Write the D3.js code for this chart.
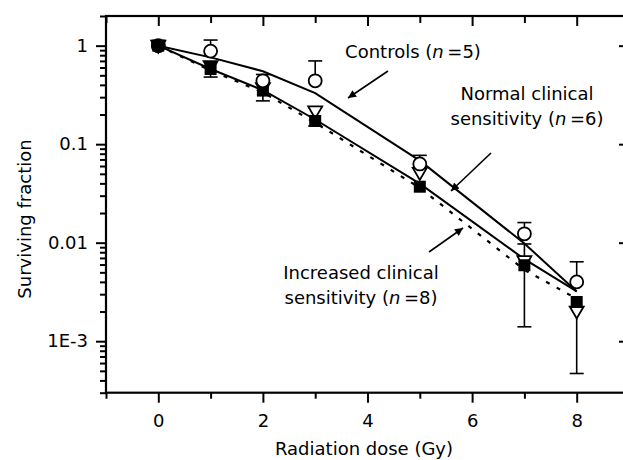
<!DOCTYPE html>
<html>
<head>
<meta charset="utf-8">
<script src="https://cdn.jsdelivr.net/npm/d3@7"></script>
<style>
  body { margin: 0; background: #fff; }
  text { font-family: "DejaVu Sans", sans-serif; fill: #000; }
</style>
</head>
<body>
<div id="drawing"></div>
<script>
// doses (Gy)
const doses = [0, 1, 2, 3, 5, 7, 8];

// measured surviving fractions
const controls = [1, 0.88, 0.44, 0.44, 0.063, 0.0123, 0.0040];
const controlsHi = [null, 1.14, 0.51, 0.70, 0.077, 0.016, 0.0064];
const normal = [1, 0.62, 0.37, 0.215, 0.051, 0.0065, 0.0020];
const normalHi = [null, null, null, 0.235, null, 0.0097, null];
const increased = [1, 0.58, 0.35, 0.172, 0.037, 0.0059, 0.0025];
const increasedLo = [null, 0.48, 0.275, 0.153, null, 0.0014, 0.00047];

// fitted curves
const controlsFit = [1, 0.76, 0.55, 0.33, 0.068, 0.0098, 0.0032];
const normalFit = [1, 0.58, 0.353, 0.178, 0.0397, 0.0068, 0.0032];
const increasedFit = [1, 0.56, 0.336, 0.165, 0.036, 0.0053, 0.0027];

// axis ticks
const xTicks = [0, 2, 4, 6, 8];
const xMinor = [-1, 1, 3, 5, 7, 9];
const yTicks = [0.001, 0.01, 0.1, 1];
const yTickLabels = ["1E-3", "0.01", "0.1", "1"];

const width = 623;
const height = 460;
const margin = {top: 16, left: 106, right: 629, bottom: 392.7};

const svg = d3.select("#drawing").append("svg")
  .attr("width", width)
  .attr("height", height)
  .style("background", "#fff");

const xScale = d3.scaleLinear().domain([-1, 9]).range([margin.left, margin.right]);
const yScale = d3.scaleLog().domain([3e-4, 2]).range([margin.bottom, margin.top]);

// minor ticks for the log axis
let yMinor = [];
for (let e = -4; e <= 0; e++) {
  for (let m = 2; m <= 9; m++) {
    let v = m * Math.pow(10, e);
    if (v >= 3e-4 && v <= 2) yMinor.push(v);
  }
}

function styleAxis(g) {
  g.select(".domain").remove();
  g.selectAll(".tick line").attr("stroke", "#000").attr("stroke-width", 2);
  g.selectAll(".tick text").style("font-size", "18px").attr("fill", "#000");
}

// bottom axis
svg.append("g")
  .attr("transform", `translate(0,${margin.bottom})`)
  .call(d3.axisBottom(xScale).tickValues(xTicks).tickSize(10).tickPadding(12).tickFormat(d3.format("d")))
  .call(styleAxis);
svg.append("g")
  .attr("transform", `translate(0,${margin.bottom})`)
  .call(d3.axisBottom(xScale).tickValues(xMinor).tickSize(6).tickFormat(""))
  .call(styleAxis);

// top axis, ticks pointing inward
svg.append("g")
  .attr("transform", `translate(0,${margin.top})`)
  .call(d3.axisBottom(xScale).tickValues(xTicks).tickSize(10).tickFormat(""))
  .call(styleAxis);
svg.append("g")
  .attr("transform", `translate(0,${margin.top})`)
  .call(d3.axisBottom(xScale).tickValues(xMinor).tickSize(7).tickFormat(""))
  .call(styleAxis);

// left axis
svg.append("g")
  .attr("transform", `translate(${margin.left},0)`)
  .call(d3.axisLeft(yScale).tickValues(yTicks).tickSize(10).tickPadding(8)
    .tickFormat((d, i) => yTickLabels[i]))
  .call(styleAxis);
svg.append("g")
  .attr("transform", `translate(${margin.left},0)`)
  .call(d3.axisLeft(yScale).tickValues(yMinor).tickSize(6).tickFormat(""))
  .call(styleAxis);

// right axis, ticks pointing inward
svg.append("g")
  .attr("transform", `translate(${margin.right},0)`)
  .call(d3.axisLeft(yScale).tickValues(yTicks).tickSize(10).tickFormat(""))
  .call(styleAxis);

// frame
svg.append("rect")
  .attr("x", margin.left)
  .attr("y", margin.top)
  .attr("width", margin.right - margin.left)
  .attr("height", margin.bottom - margin.top)
  .attr("fill", "none")
  .attr("stroke", "#000")
  .attr("stroke-width", 2.2);

// axis titles
svg.append("text")
  .attr("x", 364)
  .attr("y", 455)
  .attr("text-anchor", "middle")
  .style("font-size", "18px")
  .text("Radiation dose (Gy)");

svg.append("text")
  .attr("transform", "translate(31,219) rotate(-90)")
  .attr("text-anchor", "middle")
  .style("font-size", "18px")
  .text("Surviving fraction");

// fit lines
const line = d3.line()
  .x((d, i) => xScale(doses[i]))
  .y(d => yScale(d));

svg.append("path").datum(controlsFit)
  .attr("d", line).attr("fill", "none").attr("stroke", "#000").attr("stroke-width", 2);
svg.append("path").datum(normalFit)
  .attr("d", line).attr("fill", "none").attr("stroke", "#000").attr("stroke-width", 2);
svg.append("path").datum(increasedFit)
  .attr("d", line).attr("fill", "none").attr("stroke", "#000").attr("stroke-width", 2.2)
  .attr("stroke-dasharray", "4,8");

// error bars
function errorBars(vals, ends) {
  let data = vals.map((v, i) => ({x: doses[i], v: v, e: ends[i]})).filter(d => d.e != null);
  let g = svg.append("g").attr("stroke", "#000").attr("stroke-width", 1.6);
  g.selectAll(".stem").data(data).enter().append("line")
    .attr("x1", d => xScale(d.x)).attr("x2", d => xScale(d.x))
    .attr("y1", d => yScale(d.v)).attr("y2", d => yScale(d.e));
  g.selectAll(".cap").data(data).enter().append("line")
    .attr("x1", d => xScale(d.x) - 7).attr("x2", d => xScale(d.x) + 7)
    .attr("y1", d => yScale(d.e)).attr("y2", d => yScale(d.e));
}
errorBars(controls, controlsHi);
errorBars(normal, normalHi);
errorBars(increased, increasedLo);

// markers
svg.selectAll(".tri").data(normal).enter().append("path")
  .attr("class", "tri")
  .attr("transform", (d, i) => `translate(${xScale(doses[i])},${yScale(d)})`)
  .attr("d", "M-7,-5 L7,-5 L0,7 Z")
  .attr("fill", (d, i) => doses[i] <= 1 ? "#000" : "#fff")
  .attr("stroke", "#000").attr("stroke-width", 1.8);

svg.selectAll(".sq").data(increased).enter().append("rect")
  .attr("class", "sq")
  .attr("x", (d, i) => xScale(doses[i]) - 6)
  .attr("y", d => yScale(d) - 6)
  .attr("width", 12).attr("height", 12)
  .attr("fill", "#000");

svg.selectAll(".circ").data(controls).enter().append("circle")
  .attr("class", "circ")
  .attr("cx", (d, i) => xScale(doses[i]))
  .attr("cy", d => yScale(d))
  .attr("r", 6.5)
  .attr("fill", "#fff").attr("stroke", "#000").attr("stroke-width", 1.8);

// the 0 Gy point is drawn filled for every group
svg.append("path")
  .attr("transform", `translate(${xScale(0)},${yScale(1)})`)
  .attr("d", "M-7,-6 L7,-6 L7,2 L0,8 L-7,2 Z")
  .attr("fill", "#000");

// annotations
function label(x, y, pre, post) {
  let t = svg.append("text").attr("x", x).attr("y", y)
    .attr("text-anchor", "middle").style("font-size", "18px");
  t.append("tspan").text(pre);
  t.append("tspan").style("font-style", "italic").text("n");
  t.append("tspan").text(post);
  return t;
}

label(413, 58, "Controls (", "\u2009=5)");

svg.append("text").attr("x", 527).attr("y", 99.5).attr("text-anchor", "middle")
  .style("font-size", "18px").text("Normal clinical");
label(527, 124.5, "sensitivity (", "\u2009=6)");

svg.append("text").attr("x", 361).attr("y", 278.5).attr("text-anchor", "middle")
  .style("font-size", "18px").text("Increased clinical");
label(361, 303.5, "sensitivity (", "\u2009=8)");

// arrows
svg.append("defs").append("marker")
  .attr("id", "head")
  .attr("viewBox", "0 0 10 10")
  .attr("refX", 10).attr("refY", 5)
  .attr("markerWidth", 11).attr("markerHeight", 8)
  .attr("markerUnits", "userSpaceOnUse")
  .attr("orient", "auto")
  .append("path").attr("d", "M0,0 L10,5 L0,10 Z").attr("fill", "#000");

const arrows = [
  [388, 71, 348, 98],
  [491, 153, 451, 191],
  [429, 252, 463, 228]
];
svg.selectAll(".arrow").data(arrows).enter().append("line")
  .attr("x1", d => d[0]).attr("y1", d => d[1])
  .attr("x2", d => d[2]).attr("y2", d => d[3])
  .attr("stroke", "#000").attr("stroke-width", 1.6)
  .attr("marker-end", "url(#head)");
</script>
</body>
</html>
